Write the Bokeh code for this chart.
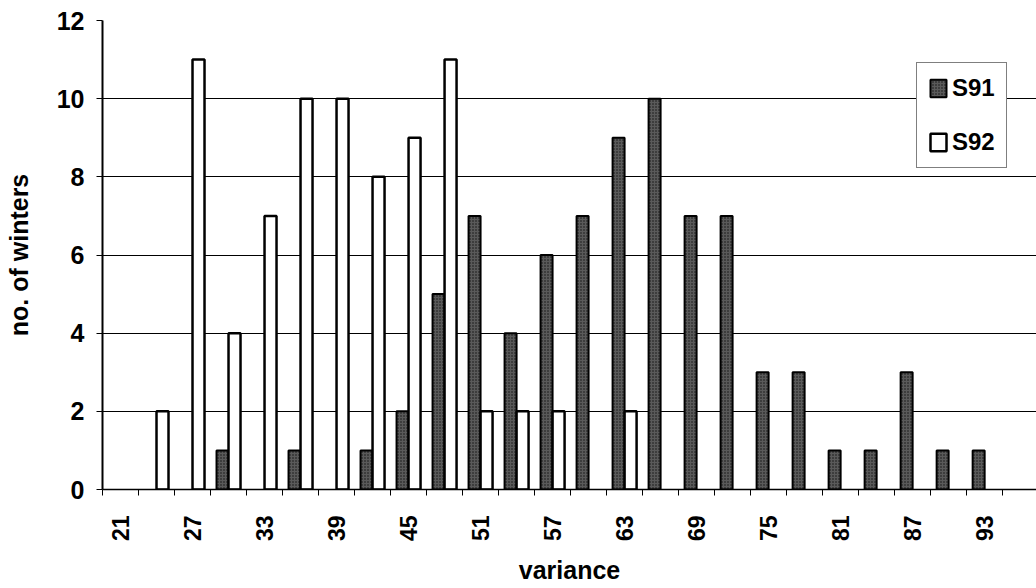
import math
from bokeh.plotting import figure
from bokeh.models import Range1d, FixedTicker, ColumnDataSource, Legend, LegendItem
from bokeh.embed import file_html
from bokeh.resources import INLINE

# ---- data ----
variance = [21, 24, 27, 30, 33, 36, 39, 42, 45, 48, 51, 54, 57,
            60, 63, 66, 69, 72, 75, 78, 81, 84, 87, 90, 93, 96]
s91 = [0, 0, 0, 1, 0, 1, 0, 1, 2, 5, 7, 4, 6,
       7, 9, 10, 7, 7, 3, 3, 1, 1, 3, 1, 1, 0]
s92 = [0, 2, 11, 4, 7, 10, 10, 8, 9, 11, 2, 2, 2,
       0, 2, 0, 0, 0, 0, 0, 0, 0, 0, 0, 0, 0]
y_ticks = [0, 2, 4, 6, 8, 10, 12]
series_names = ["S91", "S92"]

FONT = "Liberation Sans"
n = len(variance)
idx = list(range(n))
# position of each series inside its category (category i spans [i, i+1])
src91 = ColumnDataSource(dict(x=[i + 1/3 for i in idx if s91[i] > 0],
                              top=[v for v in s91 if v > 0]))
src92 = ColumnDataSource(dict(x=[i + 2/3 for i in idx if s92[i] > 0],
                              top=[v for v in s92 if v > 0]))

p = figure(width=1036, height=588, output_backend="svg", toolbar_location=None,
           x_range=Range1d(0, 25.94), y_range=Range1d(0, 12),
           min_border_left=102, min_border_right=0, min_border_top=20,
           min_border_bottom=99)
p.outline_line_color = None
p.background_fill_color = "white"

r1 = p.vbar(x="x", top="top", width=1/3, source=src91,
            fill_color="#5a5a5a", hatch_pattern="dot", hatch_color="#111111",
            hatch_scale=3, hatch_weight=1.5,
            line_color="black", line_width=2)
r2 = p.vbar(x="x", top="top", width=1/3, source=src92,
            fill_color="white", line_color="black", line_width=2.5)

# x axis
xa = p.xaxis[0]
major = [i + 0.5 for i in idx if i % 2 == 0]
xa.ticker = FixedTicker(ticks=major, minor_ticks=list(range(n + 1)))
xa.major_label_overrides = {i + 0.5: str(variance[i]) for i in idx if i % 2 == 0}
xa.major_label_orientation = math.pi / 2
xa.major_tick_out = 0
xa.major_tick_in = 0
xa.minor_tick_out = 6
xa.minor_tick_in = 0
xa.minor_tick_line_color = "black"
xa.axis_line_color = "black"
xa.axis_line_width = 1.5
xa.major_label_standoff = 20
xa.major_label_text_font = FONT
xa.major_label_text_font_style = "bold"
xa.major_label_text_font_size = "23px"
xa.major_label_text_color = "black"
xa.axis_label = "variance"
xa.axis_label_text_font = FONT
xa.axis_label_text_font_style = "bold"
xa.axis_label_text_font_size = "25px"
xa.axis_label_text_color = "black"
xa.axis_label_standoff = 12

# y axis
ya = p.yaxis[0]
ya.ticker = FixedTicker(ticks=y_ticks, minor_ticks=[])
ya.major_tick_out = 6
ya.major_tick_in = 0
ya.major_tick_line_color = "black"
ya.axis_line_color = "black"
ya.axis_line_width = 2
ya.major_label_standoff = 12
ya.major_label_text_font = FONT
ya.major_label_text_font_style = "bold"
ya.major_label_text_font_size = "25px"
ya.major_label_text_color = "black"
ya.axis_label = "no. of winters"
ya.axis_label_text_font = FONT
ya.axis_label_text_font_style = "bold"
ya.axis_label_text_font_size = "25px"
ya.axis_label_text_color = "black"
ya.axis_label_standoff = 21

p.xgrid.grid_line_color = None
p.ygrid.ticker = FixedTicker(ticks=y_ticks)
p.ygrid.grid_line_color = "black"
p.ygrid.grid_line_width = 1.2

legend = Legend(items=[LegendItem(label=series_names[0], renderers=[r1]),
                       LegendItem(label=series_names[1], renderers=[r2])],
                location=(814, 321))
legend.label_text_font = FONT
legend.label_text_font_style = "bold"
legend.label_text_font_size = "24px"
legend.label_text_color = "black"
legend.glyph_width = 20
legend.glyph_height = 22
legend.label_standoff = 4
legend.spacing = 26
legend.padding = 11
legend.margin = 0
legend.border_line_color = "black"
legend.border_line_width = 1
legend.background_fill_color = "white"
legend.background_fill_alpha = 1
p.add_layout(legend, "center")

open("out.html", "w").write(file_html(p, INLINE))
